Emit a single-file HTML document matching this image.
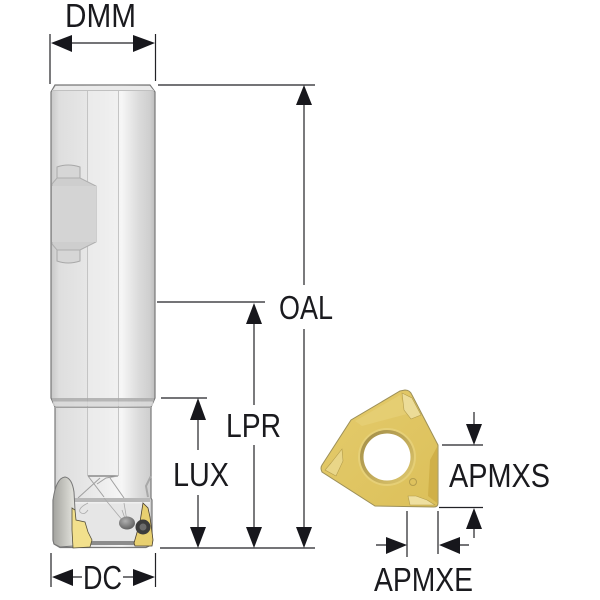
<!DOCTYPE html>
<html>
<head>
<meta charset="utf-8">
<style>
html,body{margin:0;padding:0;background:#fff;}
svg{display:block;}
text{font-family:"Liberation Sans",sans-serif;fill:#1a1a1e;font-size:33px;}
</style>
</head>
<body>
<svg width="600" height="600" viewBox="0 0 600 600" xmlns="http://www.w3.org/2000/svg">
<defs>
<linearGradient id="sh" x1="0" x2="1" y1="0" y2="0">
<stop offset="0" stop-color="#c8c8c8"/>
<stop offset=".08" stop-color="#dedede"/>
<stop offset=".33" stop-color="#e6e6e6"/>
<stop offset=".68" stop-color="#f6f6f6"/>
<stop offset=".85" stop-color="#dadada"/>
<stop offset=".95" stop-color="#cfcfcf"/>
<stop offset="1" stop-color="#bdbdbd"/>
</linearGradient>
<linearGradient id="ring" x1="0" x2="1" y1="0" y2="1">
<stop offset="0" stop-color="#a08c48"/>
<stop offset=".5" stop-color="#bfa858"/>
<stop offset="1" stop-color="#e2cb70"/>
</linearGradient>
<linearGradient id="gold" x1="0" x2="1" y1="0" y2="1">
<stop offset="0" stop-color="#e4cb6c"/>
<stop offset="1" stop-color="#dcc05a"/>
</linearGradient>
<linearGradient id="flute" x1="0" x2="1" y1="0" y2="0">
<stop offset="0" stop-color="#a2a29e"/>
<stop offset=".55" stop-color="#c8c8c2"/>
<stop offset="1" stop-color="#e6e6e0"/>
</linearGradient>
<radialGradient id="ball" cx=".4" cy=".35" r=".7">
<stop offset="0" stop-color="#b0b0b0"/>
<stop offset="1" stop-color="#5c5c5c"/>
</radialGradient>
</defs>

<!-- tool body -->
<path d="M55 85 H150 L155 92 V398 L151 407 V498 L152 500 L152 540 L149 546 L146 547.500 H60 L54 544 L53 540 V500 L55 498 V407 L51 398 V92 Z" fill="url(#sh)" stroke="#787878" stroke-width="1.200"/>
<path d="M52 91 L56 86 H150 L154 91 Z" fill="#eaeaea"/>
<path d="M53 90.500 H153" stroke="#c0c0c0" stroke-width="1" fill="none"/>
<!-- flat lines -->
<rect x="87.500" y="91" width="31" height="385" fill="#ececec" opacity=".55"/>
<path d="M87.500 91 V476 M118.500 91 V476" stroke="#c4c4c4" stroke-width="1" fill="none"/>
<!-- collar -->
<rect x="52" y="398" width="102" height="3.500" fill="#a8a8a8" opacity=".8"/>
<path d="M53 401.500 H153 V406 H53Z" fill="#d8d8d8" opacity=".8"/>
<rect x="55" y="406.500" width="96" height="1.500" fill="#a0a0a0"/>
<!-- weldon flat -->
<path d="M57 179 V167 Q68 163 80 167 V179 Z M57 250 V261 Q68 265 80 261 V250 Z" fill="#d6d6d6" stroke="#a8a8a8" stroke-width="1"/>
<path d="M52 184 L57 178 H80 L96 186 V242 L80 250 H57 L52 244 Z" fill="#cecece" stroke="#aeaeae" stroke-width="1"/>
<rect x="52" y="186" width="44" height="56" fill="#d4d4d4"/>
<!-- flat end / chip details -->
<path d="M88 476 H118" stroke="#777" stroke-width="1.200" fill="none"/>
<path d="M88 476 L104 497 M110 478 L124 498 M100 478 L78 498 M118 476 L106 478 L97 484" stroke="#a0a0a0" stroke-width="1" fill="none"/>
<!-- head face -->
<path d="M74 498 H150 V544 H74Z" fill="#e6e6e6"/>
<path d="M74 498 H150 V502 H74Z" fill="#b8b8b8"/>
<path d="M74 502 H150 V503.500 H74Z" fill="#f0f0f0"/>
<path d="M74 541 H150 V545 H74Z" fill="#8c8c8c"/>
<path d="M104 498 L128 527 M124 503 L128 527 L122 510 M88 503 Q78 508 80 512 Q84 516 88 510" stroke="#aaa" stroke-width=".8" fill="none"/>
<!-- flute -->
<path d="M53 500 Q56 478 65 477 Q72 478 74 492 L75 510 L73 546 L60 547 L54 544 L53 540Z" fill="url(#flute)" stroke="#777" stroke-width="1"/>
<path d="M148 497 L146 486 L151 476" fill="none" stroke="#a8a8a8" stroke-width="2"/>
<!-- left insert -->
<path d="M72 508 L75 510 L76 520 L85 522 L88 532 L92 540 L90 547 L73 548 L72 530 Z" fill="#f2e08c" stroke="#55503a" stroke-width=".8"/>
<!-- right insert -->
<path d="M143 503 L148 508 L150 517 L153 540 L152 546 L135 546 L134 543 L140 522 Z" fill="#e8d070" stroke="#4a4030" stroke-width=".8"/>
<circle cx="143" cy="527" r="7.500" fill="#3c3c3c"/>
<circle cx="143" cy="527" r="3.500" fill="#6c6c6c"/>
<ellipse cx="127" cy="523" rx="8" ry="6.500" fill="url(#ball)"/>

<!-- insert -->
<path d="M405 390 Q410 390 412 395 L438 445 V503 Q438 507 434 507 L375 506 L322 472 Q320 468 322 465 L351 420 L400 391Z" fill="url(#gold)" stroke="#9c8f58" stroke-width="1"/>
<path d="M355 421 L400 395 L407 414 L362 426Z" fill="#e8d27c" opacity=".6"/>
<path d="M402 393 L412 398 L421 415 L411 419 L404 410Z" fill="#ecdc98" stroke="#b39c4c" stroke-width=".6"/>
<path d="M331 463 L342 449 L343 461 L336 476 L325 470Z" fill="#e9d688" stroke="#b39c4c" stroke-width=".6"/>
<path d="M408 496 L416 496 L427 500 L435 505 L410 505Z" fill="#efe0a0" stroke="#b39c4c" stroke-width=".6"/>
<path d="M437 447 L430 460 L428 496 L437 503Z" fill="#d0b048"/>
<circle cx="387" cy="457" r="29" fill="#e8d480" opacity=".7"/>
<circle cx="387" cy="457" r="27" fill="url(#ring)"/>
<circle cx="387" cy="457" r="23.500" fill="#fff"/>
<circle cx="413" cy="482" r="3.500" fill="none" stroke="#b39c4c" stroke-width="1"/>

<!-- dimension lines -->
<g stroke="#222226" stroke-width="1.200" fill="none">
<path d="M50 34 V84 M155.500 34 V81 M60 43 H145"/>
<path d="M158 85 H315 M157 302 H265 M161 398 H207 M160 548 H315"/>
<path d="M304 100 V285 M304 329 V535"/>
<path d="M254 320 V405 M254 445 V535"/>
<path d="M198 415 V450 M198 495 V535"/>
<path d="M51 553 V587 M155.500 553 V587 M65 577 H82 M123 577 H140"/>
<path d="M442 445 H483 M439 507.500 H483 M474 412 V430 M474 524 V538"/>
<path d="M407 511 V557 M438 511 V554 M376 545 H392 M452 545 H469"/>
</g>

<!-- arrowheads -->
<g fill="#17171c">
<path d="M51 43 L72 35 V52 Z M155 43 L133 35 V52 Z"/>
<path d="M304 85 L296 105 H312 Z M304 548 L296 527 H312 Z"/>
<path d="M254 303 L246 324 H262 Z M254 548 L246 527 H262 Z"/>
<path d="M198 398 L190 420 H206 Z M198 548 L190 527 H206 Z"/>
<path d="M52 577 L73 569 V586 Z M155 577 L133 569 V586 Z"/>
<path d="M474 445 L466 424 H482 Z M474 508 L466 529 H482 Z"/>
<path d="M407 545 L386 537 V554 Z M439 545 L460 537 V554 Z"/>
</g>

<!-- labels -->
<text x="65" y="27" textLength="71" lengthAdjust="spacingAndGlyphs">DMM</text>
<text x="279" y="319" textLength="54" lengthAdjust="spacingAndGlyphs">OAL</text>
<text x="226" y="437" textLength="55" lengthAdjust="spacingAndGlyphs">LPR</text>
<text x="173" y="486" textLength="56" lengthAdjust="spacingAndGlyphs">LUX</text>
<text x="83" y="589" textLength="39" lengthAdjust="spacingAndGlyphs">DC</text>
<text x="449" y="487" textLength="101" lengthAdjust="spacingAndGlyphs">APMXS</text>
<text x="374" y="591" textLength="99" lengthAdjust="spacingAndGlyphs">APMXE</text>
</svg>
</body>
</html>
